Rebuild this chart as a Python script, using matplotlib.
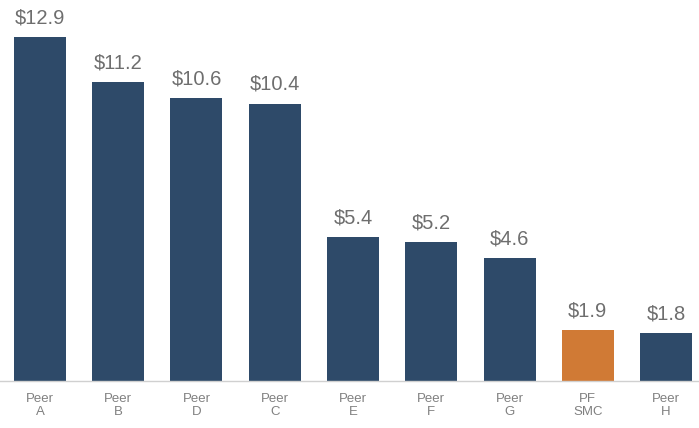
#!/usr/bin/env python3
import matplotlib
matplotlib.use('Agg')
import matplotlib.pyplot as plt

peers = ['Peer\nA', 'Peer\nB', 'Peer\nD', 'Peer\nC', 'Peer\nE',
         'Peer\nF', 'Peer\nG', 'PF\nSMC', 'Peer\nH']
values = [12.9, 11.2, 10.6, 10.4, 5.4, 5.2, 4.6, 1.9, 1.8]
highlight = 'PF\nSMC'

NAVY = '#2e4a69'
ORANGE = '#d07a35'
GREY_TEXT = '#6e6e6e'
GREY_TICK = '#808080'

fig = plt.figure(figsize=(6.99, 4.28), dpi=100)
ax = fig.add_axes([0, 47 / 428, 1, 381 / 428])

xs = list(range(len(peers)))
colors = [ORANGE if p == highlight else NAVY for p in peers]
bars = ax.bar(xs, values, width=0.665, color=colors)

for bar, v in zip(bars, values):
    ax.annotate(f'${v}', (bar.get_x() + bar.get_width() / 2, v),
                xytext=(0, 7), textcoords='offset points',
                ha='center', va='bottom', fontsize=14.5,
                family='Liberation Sans', color=GREY_TEXT)

ax.set_xlim(-0.51, 8.42)
ax.set_ylim(0, 14.29)
ax.set_xticks(xs)
ax.set_xticklabels(peers, fontsize=9.5, family='Liberation Sans',
                   color=GREY_TICK, linespacing=1.15)
ax.tick_params(axis='x', length=0, pad=8.5)
ax.set_yticks([])
for side in ['top', 'right', 'left']:
    ax.spines[side].set_visible(False)
ax.spines['bottom'].set_color('#d0d0d0')
ax.spines['bottom'].set_linewidth(1)

fig.savefig('out.png', dpi=100)
